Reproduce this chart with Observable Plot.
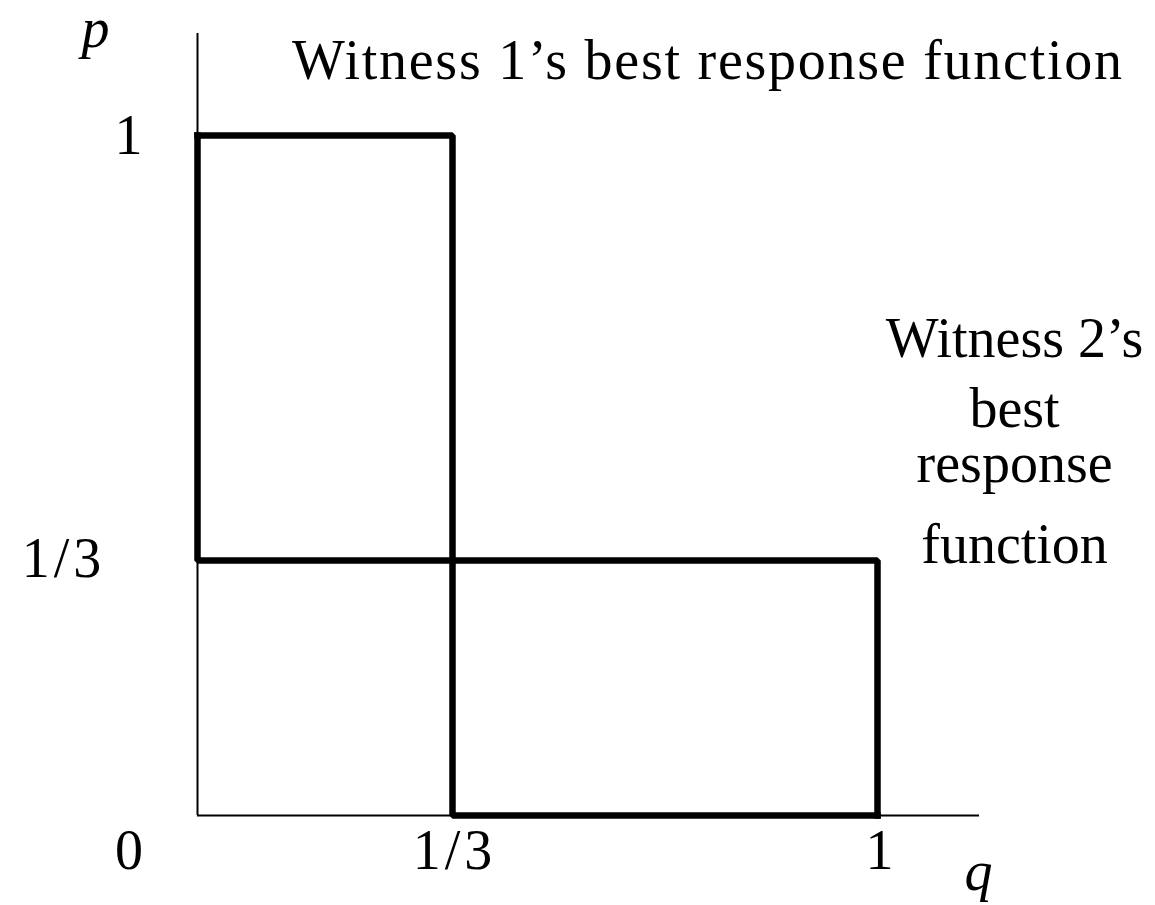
<!DOCTYPE html>
<html>
<head>
<meta charset="utf-8">
<script src="https://cdn.jsdelivr.net/npm/d3@7"></script>
<script src="https://cdn.jsdelivr.net/npm/@observablehq/plot@0.6"></script>
<style>
  html, body { margin: 0; padding: 0; background: #fff; }
  #chart svg { display: block; }
</style>
</head>
<body>
<div id="chart"></div>
<script>
// Best response of witness 1: p as a function of q
const w1q = [0, 1/3, 1/3, 1];
const w1p = [1, 1, 0, 0];
// Best response of witness 2: q as a function of p
const w2q = [0, 0, 1, 1];
const w2p = [1, 1/3, 1/3, 0];

// Tick values and their labels
const xTickValues = [1/3, 1];
const xTickLabels = ["1/3", "1"];
const yTickValues = [1, 1/3];
const yTickLabels = ["1", "1/3"];
const originLabel = "0";
const axisExtent = 1.16;

const heading = "Witness 1\u2019s best response function";
const w2Label = ["Witness 2\u2019s", "best", "response", "function"];

const lines = [
  ...w1q.map((q, i) => ({series: "w1", q, p: w1p[i]})),
  ...w2q.map((q, i) => ({series: "w2", q, p: w2p[i]}))
];
const xTicks = xTickValues.map((q, i) => ({q, label: xTickLabels[i]}));
const yTicks = yTickValues.map((p, i) => ({p, label: yTickLabels[i]}));

const font = 56;
const label = (text, x, y, extra = {}) =>
  Plot.text([text], {x, y, text: d => d, fontSize: font, lineAnchor: "bottom", textAnchor: "middle", fill: "black", ...extra});

const chart = Plot.plot({
  width: 1155,
  height: 905,
  margin: 0,
  style: {fontFamily: "'Liberation Serif', serif", background: "#fff", color: "black"},
  x: {type: "linear", domain: [0, 1/3, 1], range: [197, 452, 877], axis: null},
  y: {type: "linear", domain: [0, 1/3, 1], range: [815, 560, 135], axis: null},
  marks: [
    // axes
    Plot.ruleX([0], {y1: 0, y2: axisExtent, stroke: "black", strokeWidth: 2}),
    Plot.ruleY([0], {x1: 0, x2: axisExtent, stroke: "black", strokeWidth: 2}),
    // best response functions
    Plot.line(lines, {x: "q", y: "p", z: "series", stroke: "black", strokeWidth: 6.5,
      strokeLinejoin: "miter", strokeLinecap: "square"}),
    // tick labels
    Plot.text(xTicks, {x: "q", y: 0, text: "label", fontSize: font, lineAnchor: "bottom", dy: 53, dx: 2}),
    Plot.text(yTicks.filter(d => d.label === "1"), {x: 0, y: "p", text: "label", fontSize: font, dx: -69, dy: 1}),
    Plot.text(yTicks.filter(d => d.label === "1/3"), {x: 0, y: "p", text: "label", fontSize: font, dx: -134, dy: -1}),
    label(originLabel, -0.0895, -0.0693),
    // axis names
    label("p", -0.1333, 1.139, {fontStyle: "italic"}),
    label("q", 1.1584, -0.098, {fontStyle: "italic"}),
    // annotations
    label(heading, 0.734, 1.089),
    label(w2Label[0], 1.215, 0.652),
    label(w2Label[1], 1.215, 0.542),
    label(w2Label[2], 1.215, 0.456),
    label(w2Label[3], 1.215, 0.330)
  ]
});

// slightly wider tracking for the heading and the fractional labels
d3.select(chart).selectAll("text")
  .filter(function () { return this.textContent === heading; })
  .attr("letter-spacing", "1.75px");
d3.select(chart).selectAll("text")
  .filter(function () { return this.textContent === "1/3"; })
  .attr("letter-spacing", "4px");

document.getElementById("chart").append(chart);
</script>
</body>
</html>
